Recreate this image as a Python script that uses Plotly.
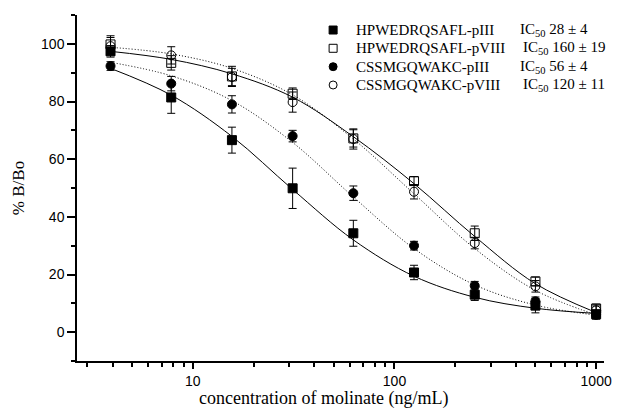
import plotly.graph_objects as go

# concentrations (ng/mL)
conc = [3.90625, 7.8125, 15.625, 31.25, 62.5, 125, 250, 500, 1000]

labels = ["HPWEDRQSAFL-pIII", "HPWEDRQSAFL-pVIII", "CSSMGQWAKC-pIII", "CSSMGQWAKC-pVIII"]
ic_text = ["IC<sub>50</sub> 28 ± 4", "IC<sub>50</sub> 160 ± 19",
           "IC<sub>50</sub> 56 ± 4", "IC<sub>50</sub> 120 ± 11"]

# measured % B/Bo
hp3_y = [97.4, 81.4, 66.6, 49.9, 34.3, 20.7, 13.0, 9.2, 6.2]
hp8_y = [99.8, 93.4, 88.7, 82.7, 67.2, 52.4, 34.3, 17.6, 8.2]
cs3_y = [92.3, 86.2, 79.0, 68.0, 48.2, 30.0, 16.1, 10.7, 6.0]
cs8_y = [99.2, 96.0, 88.5, 79.8, 67.0, 48.7, 30.9, 15.9, 7.6]

# error (±)
hp3_e = [2.0, 5.5, 4.5, 7.0, 4.5, 2.5, 2.0, 2.5, 1.5]
hp8_e = [3.0, 2.5, 3.5, 2.0, 3.0, 1.5, 2.5, 1.5, 1.5]
cs3_e = [1.5, 2.5, 3.0, 2.0, 2.5, 1.5, 1.5, 1.5, 1.5]
cs8_e = [3.0, 3.0, 3.0, 3.5, 3.5, 2.5, 2.0, 2.0, 1.5]

# fitted curve values read at the same concentrations
hp3_fit = [91.5, 82.2, 67.9, 49.5, 32.0, 19.4, 12.1, 8.3, 6.5]
hp8_fit = [97.4, 94.6, 89.6, 81.5, 67.8, 51.5, 33.2, 16.8, 6.8]
cs3_fit = [93.6, 88.9, 80.3, 65.8, 46.9, 29.0, 16.4, 9.4, 5.9]
cs8_fit = [98.8, 96.5, 91.5, 82.3, 67.0, 48.0, 29.0, 14.5, 6.0]

symbols = ["square", "square-open", "circle", "circle-open"]
dashes = ["solid", "solid", "1px,2px", "1px,2px"]
ys = [hp3_y, hp8_y, cs3_y, cs8_y]
errs = [hp3_e, hp8_e, cs3_e, cs8_e]
fits = [hp3_fit, hp8_fit, cs3_fit, cs8_fit]

fig = go.Figure()
for f, dash in zip(fits, dashes):
    fig.add_trace(go.Scatter(x=conc, y=f, mode="lines", showlegend=False,
                             line=dict(color="black", width=1, dash=dash, shape="spline"),
                             hoverinfo="skip"))
for y, e, sym, nm in zip(ys, errs, symbols, labels):
    fig.add_trace(go.Scatter(x=conc, y=y, mode="markers", name=nm, showlegend=False,
                             marker=dict(symbol=sym, size=9, color="black",
                                         line=dict(color="black", width=1)),
                             error_y=dict(type="data", array=e, color="black",
                                          thickness=1, width=4)))

# hand-drawn legend (paper coordinates)
leg_sym_x = 0.486
leg_txt_x = 0.526
leg_ic_x = [0.836, 0.842, 0.836, 0.842]
leg_rows = [0.9566, 0.9038, 0.8506, 0.7977]
shapes = []
annos = []
for i, sym in enumerate(symbols):
    filled = "open" not in sym
    kind = "rect" if sym.startswith("square") else "circle"
    r = 4
    shapes.append(dict(type=kind, xref="paper", yref="paper",
                       xsizemode="pixel", ysizemode="pixel",
                       xanchor=leg_sym_x, yanchor=leg_rows[i],
                       x0=-r, x1=r, y0=-r, y1=r,
                       line=dict(color="black", width=1),
                       fillcolor="black" if filled else "white"))
    annos.append(dict(xref="paper", yref="paper", x=leg_txt_x, y=leg_rows[i],
                      xanchor="left", yanchor="middle", showarrow=False,
                      text=labels[i], font=dict(family="Liberation Serif", size=15, color="black")))
    annos.append(dict(xref="paper", yref="paper", x=leg_ic_x[i], y=leg_rows[i],
                      xanchor="left", yanchor="middle", showarrow=False,
                      text=ic_text[i], font=dict(family="Liberation Serif", size=15, color="black")))

# x-axis title
annos.append(dict(xref="paper", yref="paper", x=0.467, y=-0.107,
                  xanchor="center", yanchor="middle", showarrow=False,
                  text="concentration of molinate (ng/mL)",
                  font=dict(family="Liberation Serif", size=18, color="black")))

fig.update_layout(
    width=620, height=415,
    margin=dict(l=77, r=8, t=15, b=54),
    plot_bgcolor="white", paper_bgcolor="white",
    font=dict(family="Liberation Sans", size=12, color="black"),
    showlegend=False,
    shapes=shapes, annotations=annos,
)
fig.update_xaxes(
    type="log", range=[0.4255, 3.039],
    showline=True, linecolor="black", linewidth=1.5,
    showgrid=False, zeroline=False,
    tickvals=[10, 100, 1000], ticktext=["10", "100", "1000"],
    ticks="outside", ticklen=6, tickwidth=1.5, tickcolor="black",
    tickfont=dict(family="Liberation Sans", size=14),
    minor=dict(tickvals=[3, 4, 5, 6, 7, 8, 9, 20, 30, 40, 50, 60, 70, 80, 90,
                         200, 300, 400, 500, 600, 700, 800, 900],
               ticks="outside", ticklen=4, tickwidth=1.5, tickcolor="black", showgrid=False),
)
fig.update_yaxes(
    range=[-10, 110],
    showline=True, linecolor="black", linewidth=1.5,
    showgrid=False, zeroline=False,
    tickvals=[0, 20, 40, 60, 80, 100],
    ticks="outside", ticklen=8, tickwidth=1.5, tickcolor="black",
    tickfont=dict(family="Liberation Sans", size=14),
    minor=dict(tickvals=[-10, 10, 30, 50, 70, 90, 110], ticks="outside",
               ticklen=4, tickwidth=1.5, tickcolor="black", showgrid=False),
    title=dict(text="% B/Bo", font=dict(family="Liberation Serif", size=17), standoff=12),
)

fig.write_html("out.html", config={"displayModeBar": False},
               post_script="document.body.style.margin='0';")
